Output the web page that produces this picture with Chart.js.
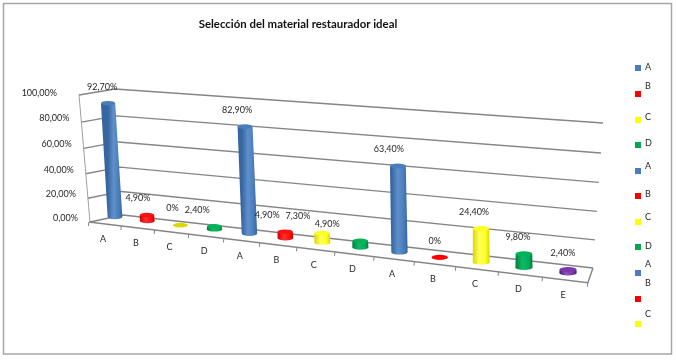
<!DOCTYPE html>
<html><head><meta charset="utf-8">
<style>html,body{margin:0;padding:0;background:#fff}canvas{display:block}</style>
<script src="https://cdn.jsdelivr.net/npm/chart.js@4"></script>
</head><body><canvas id="c" width="676" height="360"></canvas>
<script>
// ---- data ----
const chartTitle = 'Selección del material restaurador ideal';
const categories = ['A','B','C','D','A','B','C','D','A','B','C','D','E'];
const values = [92.7,4.9,0,2.4,82.9,4.9,7.3,4.9,63.4,0,24.4,9.8,2.4];
const valueLabels = ['92,70%','4,90%','0%','2,40%','82,90%','4,90%','7,30%','4,90%','63,40%','0%','24,40%','9,80%','2,40%'];
const legendLabels = ['A','B','C','D','A','B','C','D','A','B','C'];
const palette = {A:'#4a7ebb',B:'#ff0000',C:'#ffff00',D:'#00a650',E:'#7030a0'};
const shade = {A:['#36659f','#4a7ebb','#5f90cc'],B:['#c80000','#ff1010','#ff3030'],C:['#d8d800','#ffff20','#ffff60'],D:['#008040','#00b158','#10b866'],E:['#4b1f70','#7a38ab','#8f52bd']};

// ---- 3D layout (screen geometry only) ----
const barQuad = [[115,217],[568,273],[569,128],[107.5,94]];
const wallQuad = [[123,215],[593,268],[603,123],[115,89]];
const sideQuad = [[90,222],[123,215],[115,89],[79,95]];
const legendMarkY = [68,94,120,145,171,196,222,247,273,299,324];
const legendTextY = [67,86,117,143,166,194,217,246,264,283,314];
const labelDx = [-6,-9,-8,-17,-8,-18,-24,-33,-9,-5,-7,-6,-5];
const FONT = 'Lato, "Noto Sans", sans-serif';

function homography(q){
  const [p0,p1,p2,p3]=q;
  const dx1=p1[0]-p2[0],dx2=p3[0]-p2[0],sx=p0[0]-p1[0]+p2[0]-p3[0];
  const dy1=p1[1]-p2[1],dy2=p3[1]-p2[1],sy=p0[1]-p1[1]+p2[1]-p3[1];
  const den=dx1*dy2-dx2*dy1;
  const g=(sx*dy2-dx2*sy)/den,h=(dx1*sy-sx*dy1)/den;
  const a=p1[0]-p0[0]+g*p1[0],b=p3[0]-p0[0]+h*p3[0],c=p0[0];
  const d=p1[1]-p0[1]+g*p1[1],e=p3[1]-p0[1]+h*p3[1],f=p0[1];
  return (u,v)=>{const w=g*u+h*v+1;return [(a*u+b*v+c)/w,(d*u+e*v+f)/w];};
}
const HBar=homography(barQuad), HWall=homography(wallQuad), HSide=homography(sideQuad);
function uvOf(chart,px,py){
  const xs=chart.scales.x,ys=chart.scales.y;
  const x0=xs.getPixelForValue(0),x1=xs.getPixelForValue(categories.length-1);
  const y0=ys.getPixelForValue(0),y1=ys.getPixelForValue(100);
  return [(px-x0)/(x1-x0),(py-y0)/(y1-y0)];
}
function frontEdge(u){const p=HBar(u,0);return [p[0]-10+7*u,p[1]+7];}

function drawCylinder(ctx){
  const chart=this.$chart, key=categories[this.$index];
  const hw=this.width/2;
  const [uL,vB]=uvOf(chart,this.x-hw,this.base);
  const [uR]=uvOf(chart,this.x+hw,this.base);
  const [uM]=uvOf(chart,this.x,this.base);
  const [,vT]=uvOf(chart,this.x,this.y);
  const cb=HBar(uM,vB), ct=HBar(uM,vT);
  const raw=(HBar(uR,vB)[0]-HBar(uL,vB)[0])/2;
  const rb=raw*0.5+4, rt=rb*0.97;
  const ry=rb*0.3;
  const cols=shade[key];
  const flat=vT-vB<0.005;
  ctx.save();
  const grad=ctx.createLinearGradient(cb[0]-rb,0,cb[0]+rb,0);
  grad.addColorStop(0,cols[0]);grad.addColorStop(.4,cols[2]);grad.addColorStop(.75,cols[1]);grad.addColorStop(1,cols[0]);
  ctx.fillStyle=grad;
  ctx.beginPath();
  ctx.moveTo(ct[0]-rt,ct[1]);
  ctx.lineTo(cb[0]-rb,cb[1]);
  ctx.ellipse(cb[0],cb[1],rb,ry,0,Math.PI,0,true);
  ctx.lineTo(ct[0]+rt,ct[1]);
  ctx.closePath();ctx.fill();
  ctx.fillStyle=flat?(key==='C'?'#d8d800':palette[key]):cols[1];
  ctx.beginPath();ctx.ellipse(ct[0],ct[1],rt,ry,0,0,Math.PI*2);ctx.fill();
  ctx.restore();
}

const stagePlugin={
  id:'stage',
  afterDatasetUpdate(chart,args){
    const meta=chart.getDatasetMeta(args.index);
    meta.data.forEach((el,i)=>{el.$chart=chart;el.$index=i;el.draw=drawCylinder;});
  },
  beforeDatasetsDraw(chart){
    const ctx=chart.ctx,ys=chart.scales.y,xs=chart.scales.x;
    ctx.save();
    ctx.strokeStyle='#a6a6a6';ctx.lineWidth=1.5;ctx.strokeRect(3.5,3.5,668,350.5);
    ctx.strokeStyle='#858585';ctx.lineWidth=1.4;
    ys.ticks.forEach(t=>{
      const v=t.value/100;
      const a=HSide(0,v),b=HSide(1,v),c=HWall(1,v);
      ctx.beginPath();ctx.moveTo(a[0],a[1]);ctx.lineTo(b[0],b[1]);ctx.lineTo(c[0],c[1]);ctx.stroke();
    });
    const s0=HSide(0,0),s1=HSide(0,1);
    ctx.strokeStyle='#a0a0a0';ctx.lineWidth=1;
    ctx.beginPath();ctx.moveTo(s1[0],s1[1]);ctx.lineTo(s0[0],s0[1]);ctx.stroke();
    const n=categories.length, step=1/(n-1);
    const fl=frontEdge(-step/2),fr=frontEdge(1+step/2),br=HWall(1,0);
    ctx.strokeStyle='#858585';ctx.lineWidth=1.4;
    ctx.beginPath();ctx.moveTo(fl[0],fl[1]);ctx.lineTo(fr[0],fr[1]);ctx.lineTo(br[0],br[1]);ctx.stroke();
    ctx.lineWidth=1;
    for(let i=0;i<=n;i++){
      const p=frontEdge((i-.5)*step);
      ctx.beginPath();ctx.moveTo(p[0],p[1]);ctx.lineTo(p[0]-.5,p[1]+4);ctx.stroke();
    }
    ctx.fillStyle='#262626';ctx.font='9px '+FONT;ctx.textBaseline='middle';
    ctx.textAlign='right';
    ys.ticks.forEach(t=>{
      const p=HSide(0,t.value/100);
      const top=t.value===100;
      ctx.fillText(ys.options.ticks.callback(t.value),p[0]-12+(top?-10:0),p[1]+(top?-2:-4));
    });
    ctx.textAlign='center';
    xs.ticks.forEach((t,i)=>{
      const [u]=uvOf(chart,xs.getPixelForValue(t.value),0);
      const p=frontEdge(u);
      ctx.fillText(categories[i],p[0]-2,p[1]+15);
    });
    ctx.textAlign='left';
    legendLabels.forEach((l,i)=>{
      ctx.fillStyle=palette[l];ctx.fillRect(635,legendMarkY[i]-3,6,6);
      ctx.fillStyle='#262626';ctx.fillText(l,645,legendTextY[i]);
    });
    ctx.restore();
  },
  afterDatasetsDraw(chart){
    const ctx=chart.ctx,meta=chart.getDatasetMeta(0);
    ctx.save();
    ctx.fillStyle='#262626';ctx.font='9px '+FONT;ctx.textAlign='center';ctx.textBaseline='middle';
    meta.data.forEach((el,i)=>{
      const [u,v]=uvOf(chart,el.x,el.y);
      const p=HBar(u,v);
      ctx.fillText(valueLabels[i],p[0]+labelDx[i],p[1]-16.5);
    });
    ctx.fillStyle='#111';ctx.font='bold 11.4px '+FONT;
    ctx.fillText(chartTitle,298,24);
    ctx.restore();
  }
};

new Chart(document.getElementById('c'),{
  type:'bar',
  data:{labels:categories,datasets:[{data:values,backgroundColor:categories.map(c=>palette[c]),barPercentage:.42,categoryPercentage:1}]},
  options:{
    responsive:false,animation:false,
    plugins:{legend:{display:false},title:{display:false},tooltip:{enabled:false}},
    scales:{
      x:{display:true,grid:{display:false},border:{display:false},ticks:{display:false}},
      y:{display:true,min:0,max:100,grid:{display:false},border:{display:false},
         ticks:{display:false,stepSize:20,callback:v=>v.toFixed(2).replace('.',',')+'%'}}
    }
  },
  plugins:[stagePlugin]
});
</script></body></html>
